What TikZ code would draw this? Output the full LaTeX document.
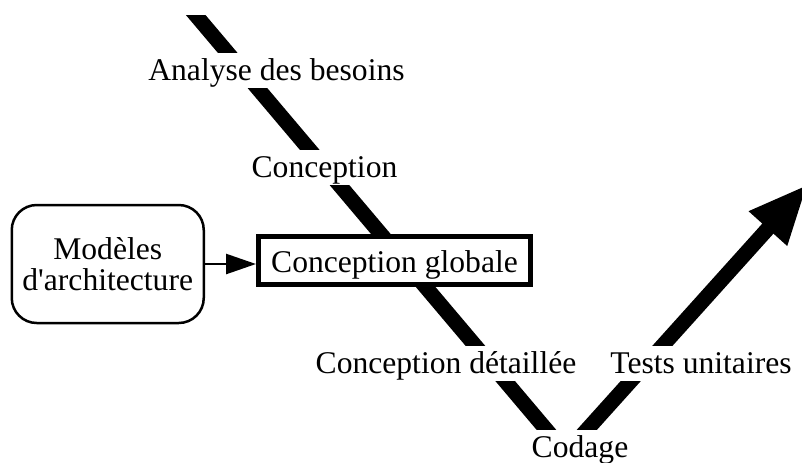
\documentclass[tikz,border=0pt]{standalone}
\usepackage{fontspec}
\setmainfont{Liberation Serif}
\usetikzlibrary{
    arrows.meta,
    positioning
}

\begin{document}
\begin{tikzpicture}[
x=0.5pt, y=-0.5pt,
every node/.style={
font=\fontsize{15.8}{15.2}\selectfont
},
phase/.style={
fill=white,
inner xsep=2pt,
inner ysep=0pt,
text height=13.4pt,
text depth=4pt
},
box/.style={
draw,
rounded corners=12.5pt,
line width=1.25pt,
minimum width=96pt,
minimum height=59pt,
align=center
},
stepbox/.style={
draw,
fill=white,
line width=2.5pt,
minimum width=136pt,
minimum height=24pt,
inner sep=0pt,
text height=13.4pt,
text depth=1.6pt
}
]

\useasboundingbox (0,0) rectangle (802,462);

% the V
\coordinate (vtop) at (183,0);
\coordinate (vbottom) at (566,453);
\coordinate (vtip) at (808,184);

\begin{scope}
\clip (0,15) rectangle (802,462);
\draw[line width=7.5pt, -{Triangle[length=30pt, width=23.5pt]}]
(vtop) -- (vbottom) -- (vtip);
\end{scope}

% phases on the V
\node[phase, anchor=base] (besoins) at (276.5,80)
{Analyse des besoins};

\node[phase, anchor=base] (conception) at (324.5,177)
{Conception};

\node[stepbox] (globale) at (394.5,260.5)
{Conception globale};

\node[phase, anchor=base] (detaillee) at (446,373)
{Conception détaillée};

\node[phase, anchor=base] (tests) at (701,373)
{Tests unitaires};

\node[phase, anchor=base] (codage) at (580,457)
{Codage};

\node[box, left=25.5pt of globale, yshift=-1.75pt] (modeles)
{Modèles\\d\textquotesingle architecture};

\draw[-{Triangle[length=15pt, width=10pt]}, line width=1.25pt]
(modeles.east) -- (modeles.east -| globale.west);

\end{tikzpicture}
\end{document}
